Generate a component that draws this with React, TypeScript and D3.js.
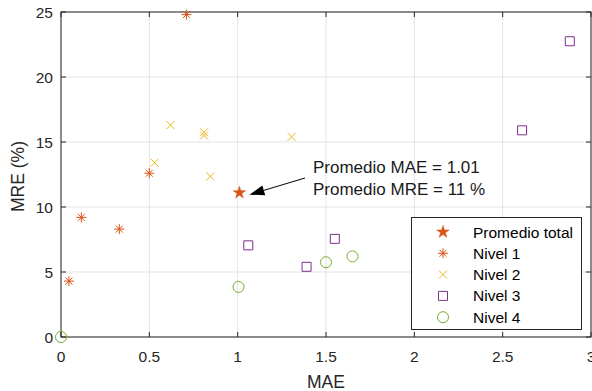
import * as d3 from 'd3';
import { useRef, useEffect } from 'react';

// values
const promedio = [{ mae: 1.01, mre: 11.1 }];
const nivel1 = [
  { mae: 0.71, mre: 24.8 },
  { mae: 0.5, mre: 12.6 },
  { mae: 0.115, mre: 9.2 },
  { mae: 0.33, mre: 8.3 },
  { mae: 0.045, mre: 4.3 },
];
const nivel2 = [
  { mae: 0.62, mre: 16.3 },
  { mae: 0.81, mre: 15.75 },
  { mae: 0.81, mre: 15.5 },
  { mae: 0.53, mre: 13.4 },
  { mae: 0.845, mre: 12.35 },
  { mae: 1.305, mre: 15.4 },
];
const nivel3 = [
  { mae: 2.88, mre: 22.75 },
  { mae: 2.61, mre: 15.9 },
  { mae: 1.06, mre: 7.05 },
  { mae: 1.39, mre: 5.4 },
  { mae: 1.55, mre: 7.55 },
];
const nivel4 = [
  { mae: 0, mre: 0 },
  { mae: 1.005, mre: 3.85 },
  { mae: 1.5, mre: 5.75 },
  { mae: 1.65, mre: 6.2 },
];
const xTicks = [0, 0.5, 1, 1.5, 2, 2.5, 3];
const yTicks = [0, 5, 10, 15, 20, 25];
const annotation = ['Promedio MAE = 1.01', 'Promedio MRE = 11 %'];

type Pt = { mae: number; mre: number };

const W = 592;
const H = 391;
const margin = { top: 12, right: 1, bottom: 54, left: 61 };

const shapes: Record<string, string> = {
  star: d3.symbol(d3.symbolStar, 48)()!,
  asterisk: 'M0,-5V5M-5,0H5M-3.5,-3.5L3.5,3.5M-3.5,3.5L3.5,-3.5',
  times: 'M-4,-4L4,4M-4,4L4,-4',
  square: 'M-4.5,-4.5H4.5V4.5H-4.5Z',
  circle: d3.symbol(d3.symbolCircle, Math.PI * 5.5 * 5.5)()!,
};

const series = [
  { name: 'Promedio total', data: promedio, shape: 'star', color: '#D95319', fill: true },
  { name: 'Nivel 1', data: nivel1, shape: 'asterisk', color: '#D95319', fill: false },
  { name: 'Nivel 2', data: nivel2, shape: 'times', color: '#EDB120', fill: false },
  { name: 'Nivel 3', data: nivel3, shape: 'square', color: '#7E2F8E', fill: false },
  { name: 'Nivel 4', data: nivel4, shape: 'circle', color: '#77AC30', fill: false },
];

const App = () => {
  const ref = useRef<SVGSVGElement>(null);

  useEffect(() => {
    if (!ref.current) return;
    const svg = d3.select(ref.current);
    svg.selectAll('*').remove();
    const font = 'Liberation Sans, Arial, Helvetica, sans-serif';

    const x = d3.scaleLinear().domain([0, 3]).range([margin.left, W - margin.right]);
    const y = d3.scaleLinear().domain([0, 25]).range([H - margin.bottom, margin.top]);
    const [x0, x1] = x.range();
    const [y0, y1] = y.range();

    // grid
    const grid = svg.append('g').attr('stroke', '#e3e3e3').attr('stroke-width', 1);
    xTicks.forEach(t => {
      grid.append('line').attr('x1', x(t)).attr('x2', x(t)).attr('y1', y0).attr('y2', y1);
    });
    yTicks.forEach(t => {
      grid.append('line').attr('x1', x0).attr('x2', x1).attr('y1', y(t)).attr('y2', y(t));
    });

    // box with inward ticks
    const ax = svg.append('g').attr('stroke', '#262626').attr('stroke-width', 1).attr('fill', 'none');
    ax.append('rect').attr('x', x0).attr('y', y1).attr('width', x1 - x0).attr('height', y0 - y1);
    xTicks.forEach(t => {
      ax.append('line').attr('x1', x(t)).attr('x2', x(t)).attr('y1', y0).attr('y2', y0 - 5);
      ax.append('line').attr('x1', x(t)).attr('x2', x(t)).attr('y1', y1).attr('y2', y1 + 5);
    });
    yTicks.forEach(t => {
      ax.append('line').attr('x1', x0).attr('x2', x0 + 5).attr('y1', y(t)).attr('y2', y(t));
      ax.append('line').attr('x1', x1).attr('x2', x1 - 5).attr('y1', y(t)).attr('y2', y(t));
    });

    // tick labels
    const lab = svg.append('g').attr('font-family', font).attr('font-size', 15.5).attr('fill', '#262626');
    xTicks.forEach(t => {
      lab.append('text').attr('x', x(t)).attr('y', y0 + 25).attr('text-anchor', 'middle').text(d3.format('~g')(t));
    });
    yTicks.forEach(t => {
      lab.append('text').attr('x', x0 - 8).attr('y', y(t) + 5.5).attr('text-anchor', 'end').text(t);
    });
    lab.append('text').attr('x', (x0 + x1) / 2).attr('y', H - 3).attr('text-anchor', 'middle')
      .attr('font-size', 17.5).text('MAE');
    lab.append('text').attr('transform', `translate(24,${(y0 + y1) / 2 + 2}) rotate(-90)`)
      .attr('text-anchor', 'middle').attr('font-size', 17.5).text('MRE (%)');

    // markers
    const marks = svg.append('g');
    series.forEach(s => {
      marks.selectAll(null)
        .data(s.data as Pt[])
        .enter()
        .append('path')
        .attr('d', shapes[s.shape])
        .attr('transform', d => `translate(${x(d.mae)},${y(d.mre)})`)
        .attr('fill', s.fill ? s.color : 'none')
        .attr('stroke', s.color)
        .attr('stroke-width', s.fill ? 0.5 : 1);
    });

    // annotation arrow
    const tip = promedio[0];
    const tx = x(tip.mae) + 10;
    const ty = y(tip.mre) + 2;
    const sx = 305;
    const sy = 178;
    const ang = Math.atan2(ty - sy, tx - sx);
    const L = 15;
    const Wh = 5;
    const bx = tx - L * Math.cos(ang);
    const by = ty - L * Math.sin(ang);
    svg.append('line').attr('x1', sx).attr('y1', sy).attr('x2', bx).attr('y2', by)
      .attr('stroke', 'black').attr('stroke-width', 1);
    svg.append('path')
      .attr('d', `M${tx},${ty}L${bx + Wh * Math.sin(ang)},${by - Wh * Math.cos(ang)}L${bx - Wh * Math.sin(ang)},${by + Wh * Math.cos(ang)}Z`)
      .attr('fill', 'black');
    const at = svg.append('text').attr('font-family', font).attr('font-size', 17).attr('fill', '#1a1a1a');
    annotation.forEach((line, i) => {
      at.append('tspan').attr('x', 313).attr('y', 172.5 + i * 22.3).text(line);
    });

    // legend
    const lg = svg.append('g');
    lg.append('rect').attr('x', 411.5).attr('y', 217.5).attr('width', 170).attr('height', 112)
      .attr('fill', 'white').attr('stroke', '#262626').attr('stroke-width', 1);
    series.forEach((s, i) => {
      const cy = 232 + i * 21.3;
      lg.append('path').attr('d', shapes[s.shape]).attr('transform', `translate(443,${cy})`)
        .attr('fill', s.fill ? s.color : 'none').attr('stroke', s.color)
        .attr('stroke-width', s.fill ? 0.5 : 1);
      lg.append('text').attr('x', 473).attr('y', cy + 5.5).attr('font-family', font)
        .attr('font-size', 15.5).attr('fill', '#000').text(s.name);
    });
  }, []);

  return (
    <svg ref={ref} width={W} height={H}
      style={{ position: 'absolute', left: 0, top: 0, background: 'white' }} />
  );
};

export default App;
